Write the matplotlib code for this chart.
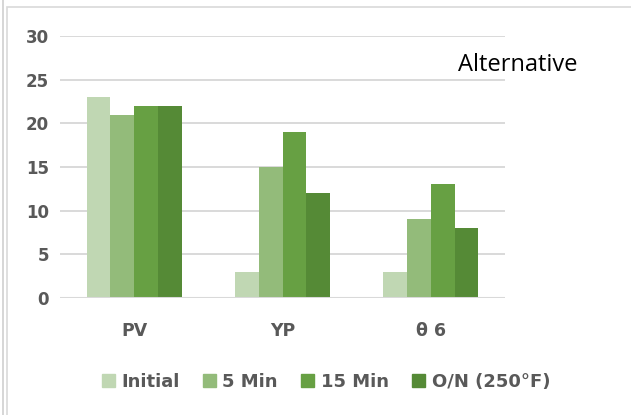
import matplotlib
matplotlib.use("Agg")
import matplotlib.pyplot as plt
import numpy as np
from matplotlib.patches import Rectangle
from matplotlib.lines import Line2D

categories = ["PV", "YP", "θ 6"]
series = ["Initial", "5 Min", "15 Min", "O/N (250°F)"]
values = {
    "Initial": [23, 3, 3],
    "5 Min": [21, 15, 9],
    "15 Min": [22, 19, 13],
    "O/N (250°F)": [22, 12, 8],
}
colors = ["#C0D7B3", "#93BB7A", "#67A043", "#558A36"]
yticks = [0, 5, 10, 15, 20, 25, 30]

plt.rcParams['font.family'] = ['DejaVu Sans']

fig = plt.figure(figsize=(6.31, 4.15), dpi=100)
# chart border
fig.patches.append(Rectangle((7/631, -0.1), 1.2, 1 - 7/415 + 0.1, transform=fig.transFigure,
                             fill=False, edgecolor="#D9D9D9", linewidth=1.2))
fig.lines.append(Line2D([3/631, 3/631], [0, 1], transform=fig.transFigure, color="#D0D0D0", linewidth=1.2))

ax = fig.add_axes([60/631, 1 - 298/415, 445/631, (298 - 36)/415])
x = np.arange(len(categories))
w = 0.16
for i, s in enumerate(series):
    ax.bar(x + (i - 1.5) * w, values[s], width=w, color=colors[i], label=s, zorder=3)

ax.set_xlim(-0.5, 2.5)
ax.set_ylim(0, 30)
ax.set_yticks(yticks)
ax.yaxis.grid(True, color="#D9D9D9", linewidth=1.4, zorder=0)
ax.axhline(0, color="#D9D9D9", linewidth=2.2, zorder=4)
for sp in ax.spines.values():
    sp.set_visible(False)
ax.tick_params(axis='both', length=0, labelcolor="#595959")
ax.tick_params(axis='y', pad=8, labelsize=12)
ax.tick_params(axis='x', pad=17, labelsize=12.5)
ax.set_xticks(x)
ax.set_xticklabels(categories, fontweight='bold')
for lbl in ax.get_yticklabels():
    lbl.set_fontweight('bold')

fig.text(518/631, 1 - 65/415, "Alternative", ha='center', va='center',
         fontsize=17, color="black", family=['Open Sans', 'DejaVu Sans'])

handles = [Rectangle((0, 0), 1, 1, color=c) for c in colors]
leg = fig.legend(handles, series, loc='center', bbox_to_anchor=(326/631, 1 - 382/415), ncol=4,
                 frameon=False, handlelength=0.72, handleheight=0.72, handletextpad=0.35,
                 columnspacing=1.3, borderpad=0, prop={'size': 13, 'weight': 'bold'})
for t in leg.get_texts():
    t.set_color("#595959")

fig.savefig("out.png", dpi=100)
